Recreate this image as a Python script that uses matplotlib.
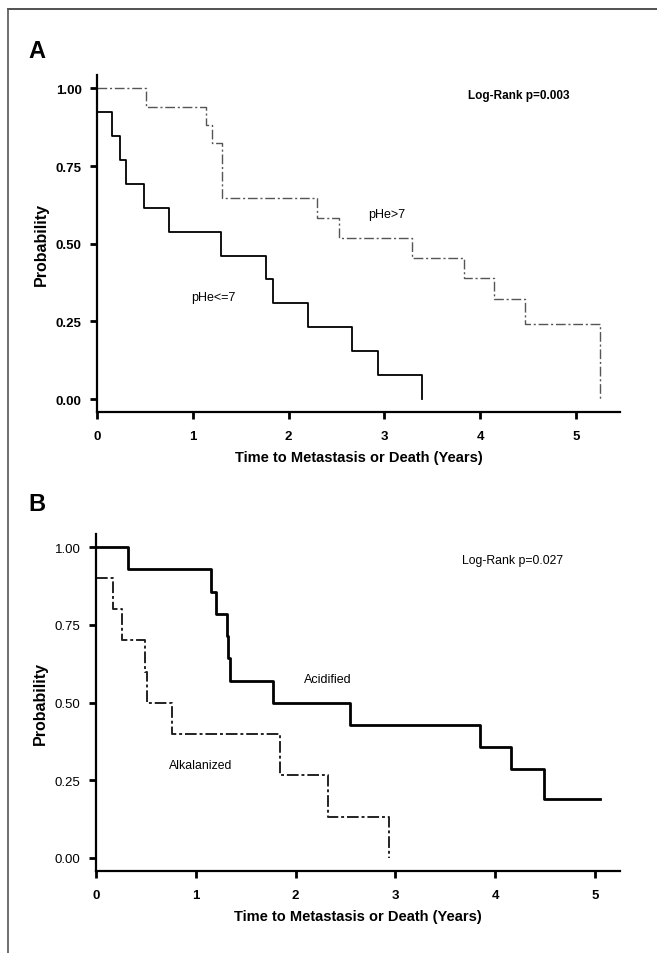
import matplotlib
matplotlib.use('Agg')
import matplotlib.pyplot as plt
from matplotlib.lines import Line2D

plt.rcParams['font.family'] = ['Liberation Sans', 'DejaVu Sans']

# Panel A: pHe groups (Kaplan-Meier step values)
a_low_t = [0, 0.156, 0.24, 0.30, 0.49, 0.75, 1.30, 1.76, 1.84, 2.20, 2.66, 2.93, 3.39]
a_low_s = [0.923, 0.846, 0.769, 0.692, 0.615, 0.538, 0.462, 0.385, 0.308, 0.231, 0.154, 0.077, 0.0]
a_high_t = [0, 0.51, 1.14, 1.20, 1.31, 2.30, 2.53, 3.29, 3.83, 4.14, 4.47, 5.25]
a_high_s = [1.0, 0.941, 0.882, 0.824, 0.647, 0.582, 0.518, 0.453, 0.388, 0.323, 0.243, 0.0]

# Panel B: acidified vs alkalanized
b_acid_t = [0, 0.32, 1.15, 1.20, 1.31, 1.32, 1.34, 1.77, 2.54, 3.85, 4.16, 4.49, 5.05]
b_acid_s = [1.0, 0.929, 0.857, 0.786, 0.714, 0.643, 0.571, 0.5, 0.429, 0.357, 0.286, 0.19, 0.19]
b_alk_t = [0, 0.17, 0.26, 0.49, 0.51, 0.76, 1.84, 2.32, 2.94]
b_alk_s = [0.9, 0.8, 0.7, 0.6, 0.5, 0.4, 0.267, 0.133, 0.0]

yticks = [0, 0.25, 0.5, 0.75, 1.0]
ytick_labels = ['0.00', '0.25', '0.50', '0.75', '1.00']
xticks = [0, 1, 2, 3, 4, 5]
xlabel = 'Time to Metastasis or Death (Years)'

fig = plt.figure(figsize=(6.57, 9.54), dpi=100)


def style_axes(ax, xmax, ybold):
    ax.set_xlim(0, xmax)
    ax.set_ylim(-0.042, 1.042)
    for s in ['top', 'right']:
        ax.spines[s].set_visible(False)
    for s in ['left', 'bottom']:
        ax.spines[s].set_linewidth(1.6)
    ax.set_yticks(yticks)
    ax.set_yticklabels(ytick_labels, fontweight='bold' if ybold else 'normal')
    ax.set_xticks(xticks)
    ax.set_xticklabels([str(v) for v in xticks], fontweight='bold')
    ax.tick_params(direction='out', length=5, width=2, labelsize=9.5, pad=6)
    ax.tick_params(axis='x', pad=8)
    ax.set_ylabel('Probability', fontsize=11.5, fontweight='bold', labelpad=5)
    ax.set_xlabel(xlabel, fontsize=10.5, fontweight='bold', labelpad=6)


# ---- panel A
axA = fig.add_axes([0.1476, 0.567, 0.796, 0.353])
axA.step(a_high_t, a_high_s, where='post', color='#555555', lw=1.0,
         linestyle=(0, (7, 2, 1.5, 2)))
axA.step(a_low_t, a_low_s, where='post', color='black', lw=1.3)
style_axes(axA, 5.46, True)
axA.text(4.40, 0.98, 'Log-Rank p=0.003', fontsize=8.5, fontweight='bold',
         ha='center', va='center')
axA.text(3.02, 0.595, 'pHe>7', fontsize=9, ha='center', va='center')
axA.text(1.21, 0.33, 'pHe<=7', fontsize=9, ha='center', va='center')

# ---- panel B
axB = fig.add_axes([0.1461, 0.086, 0.7976, 0.353])
axB.step(b_alk_t, b_alk_s, where='post', color='#222222', lw=1.4,
         linestyle=(0, (6, 1.5, 1.5, 1.5)))
axB.step(b_acid_t, b_acid_s, where='post', color='black', lw=2.0)
style_axes(axB, 5.25, False)
axB.text(4.17, 0.96, 'Log-Rank p=0.027', fontsize=8.8,
         ha='center', va='center')
axB.text(2.32, 0.575, 'Acidified', fontsize=9, ha='center', va='center')
axB.text(1.05, 0.30, 'Alkalanized', fontsize=8.8, ha='center', va='center')

# panel letters
fig.text(28 / 657, 1 - 52 / 954, 'A', fontsize=17, fontweight='bold',
         ha='left', va='center')
fig.text(28 / 657, 1 - 505 / 954, 'B', fontsize=17, fontweight='bold',
         ha='left', va='center')

# frame lines (top and left only)
fig.add_artist(Line2D([8 / 657, 1], [1 - 10 / 954, 1 - 10 / 954],
                      transform=fig.transFigure, color='#333333', lw=1.2))
fig.add_artist(Line2D([8 / 657, 8 / 657], [0, 1 - 10 / 954],
                      transform=fig.transFigure, color='#555555', lw=1.2))

fig.savefig('out.png', dpi=100)
